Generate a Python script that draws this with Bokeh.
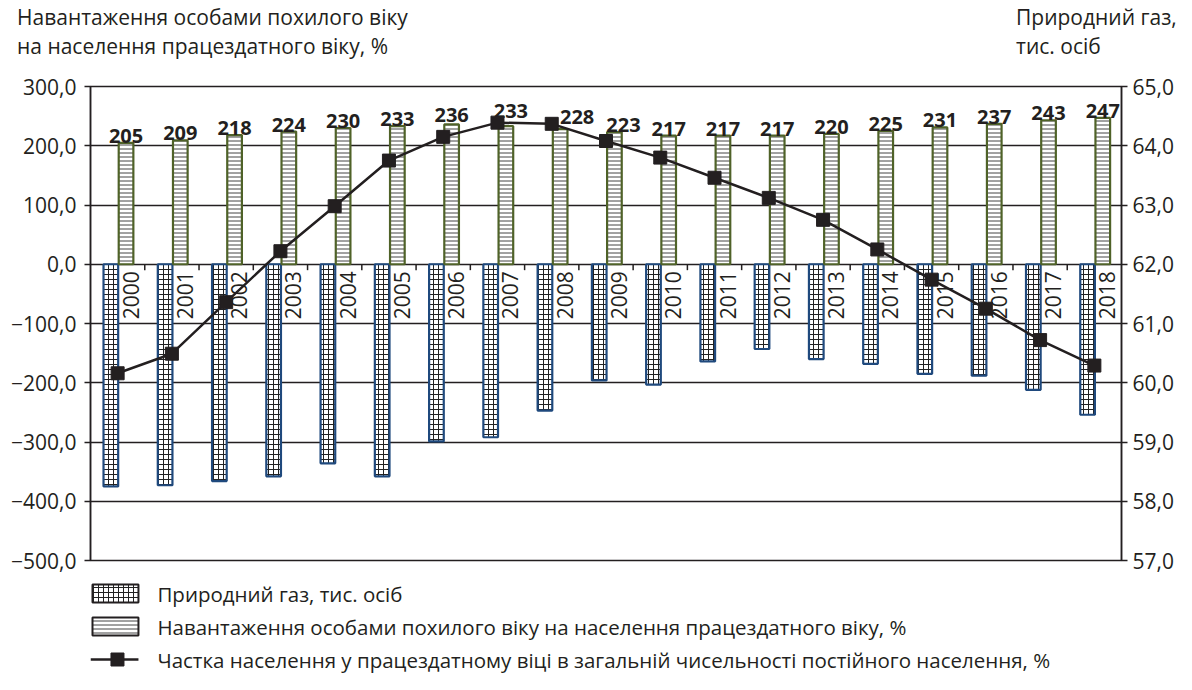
import math
import json
from html import escape
from bokeh.plotting import figure
from bokeh.layouts import column
from bokeh.models import (Range1d, LinearAxis, FixedTicker, CustomJSTickFormatter,
                          ColumnDataSource, Div)
from bokeh.core.properties import value
from bokeh.embed import file_html
from bokeh.resources import INLINE

# ---------------- data ----------------
years = ["2000", "2001", "2002", "2003", "2004", "2005", "2006", "2007", "2008", "2009",
         "2010", "2011", "2012", "2013", "2014", "2015", "2016", "2017", "2018"]
gas = [-375, -373, -366, -358, -336, -358, -299, -292, -247, -196,
       -203, -164, -143, -160, -168, -185, -188, -212, -254]
load = [205, 209, 218, 224, 230, 233, 236, 233, 228, 223,
        217, 217, 217, 220, 225, 231, 237, 243, 247]
share = [60.16, 60.49, 61.36, 62.22, 62.98, 63.75, 64.15, 64.39, 64.37, 64.08,
         63.80, 63.46, 63.12, 62.75, 62.25, 61.74, 61.25, 60.72, 60.29]

left_ticks = [-500, -400, -300, -200, -100, 0, 100, 200, 300]
right_ticks = [57, 58, 59, 60, 61, 62, 63, 64, 65]

title_left = ["Навантаження особами похилого віку", "на населення працездатного віку, %"]
title_right = ["Природний газ,", "тис. осіб"]
x_title = "Рік"
legend_labels = ["Природний газ, тис. осіб",
                 "Навантаження особами похилого віку на населення працездатного віку, %",
                 "Частка населення у працездатному віці в загальній чисельності постійного населення, %"]

# ---------------- styles / layout ----------------
INK = "#231f20"
NAVY = "#1f497d"
OLIVE = "#4f6228"
FONT = "Open Sans"
W = 1176
TOP_H = 66
BL, BR, BT, BB = 90, 54, 20, 14          # borders of the main chart
FRAME_W, FRAME_H = W - BL - BR, 474
MAIN_H = BT + FRAME_H + BB
BOT_H = 674 - TOP_H - MAIN_H

# label nudges (screen px) where labels avoid the line
lab_dx = [0, 0, 0, 0, 0, 0, 0, 5, 17, 9, 0, 0, 0, 0, 0, 0, 0, 0, 0]
lab_dy = [0, 0, 0, 0, 0, 0, -2, -8, -5, 0, 0, 0, 0, 0, 0, 0, 0, 0, 0]

NEG_STYLE = dict(fill_color="white", line_color=NAVY, line_width=2.2,
                 hatch_pattern="cross", hatch_scale=5, hatch_weight=1, hatch_color="#222222")
POS_STYLE = dict(fill_color="white", line_color=OLIVE, line_width=2.2,
                 hatch_pattern="horizontal_line", hatch_scale=4, hatch_weight=1, hatch_color="#444444")

# ---------------- axis titles above the chart ----------------
span = '<span style="position:absolute;left:%dpx;top:%dpx;">%s</span>'
top_html = ('<div style="position:relative;width:%dpx;height:%dpx;font-family:\'%s\';'
            'font-size:21px;line-height:21px;color:%s;white-space:nowrap;">' % (W, TOP_H, FONT, INK)
            + span % (17, 7, escape(title_left[0])) + span % (17, 36, escape(title_left[1]))
            + span % (1016, 7, escape(title_right[0])) + span % (1016, 36, escape(title_right[1]))
            + '</div>')
top = Div(text=top_html, width=W, height=TOP_H, margin=0)

# ---------------- main chart ----------------
idx = list(range(len(years)))
src = ColumnDataSource(dict(
    x=idx,
    xneg=[i - 0.125 for i in idx],
    xpos=[i + 0.155 for i in idx],
    gas=gas, load=load, share=share, years=years,
    load_txt=[str(v) for v in load],
    dx=lab_dx, dy=[d - 7 for d in lab_dy],
))

p = figure(width=W, height=MAIN_H, x_range=Range1d(-0.5, 18.5), y_range=Range1d(-500, 300),
           min_border_left=BL, min_border_right=BR, min_border_top=BT, min_border_bottom=BB,
           output_backend="svg", toolbar_location=None,
           x_axis_location=None, y_axis_location="left",
           background_fill_color="white", border_fill_color="white")
p.outline_line_color = INK
p.outline_line_width = 1.5
for g in p.xgrid:
    g.visible = False

fmt = CustomJSTickFormatter(code="return tick.toFixed(1).replace('.', ',').replace('-', '\u2212');")


def style_axis(ax, size="21px"):
    ax.axis_line_color = INK
    ax.axis_line_width = 1.5
    ax.major_tick_line_color = INK
    ax.major_tick_line_width = 1.5
    ax.major_tick_out = 6
    ax.major_tick_in = 0
    ax.minor_tick_line_color = None
    ax.major_label_text_font = FONT
    ax.major_label_text_font_size = size
    ax.major_label_text_color = INK


ly = p.yaxis[0]
ly.ticker = FixedTicker(ticks=left_ticks)
ly.formatter = fmt
style_axis(ly)
ly.major_label_standoff = 8

for g in p.ygrid:
    g.ticker = FixedTicker(ticks=left_ticks)
    g.grid_line_color = INK
    g.grid_line_width = 1.5

p.extra_y_ranges = {"share": Range1d(57, 65)}
ry = LinearAxis(y_range_name="share", ticker=FixedTicker(ticks=right_ticks), formatter=fmt)
style_axis(ry)
ry.major_label_standoff = 5
p.add_layout(ry, "right")

# x-axis title "Рік" at the right end of the category axis
rik = LinearAxis(y_range_name="share", fixed_location=18.5, ticker=FixedTicker(ticks=[61.6]),
                 formatter=CustomJSTickFormatter(code="return %s;" % json.dumps(x_title, ensure_ascii=False)))
rik.axis_line_color = None
rik.major_tick_line_color = None
rik.minor_tick_line_color = None
rik.major_tick_out = 0
rik.major_tick_in = 0
rik.major_label_standoff = 19
rik.major_label_text_font = FONT
rik.major_label_text_font_size = "21px"
rik.major_label_text_color = INK
p.add_layout(rik, "right")

# bars
neg = p.vbar(x="xneg", top="gas", bottom=0, width=0.27, source=src, **NEG_STYLE)
pos = p.vbar(x="xpos", top="load", bottom=0, width=0.27, source=src, **POS_STYLE)

# category-axis ticks at boundaries
bounds = [i + 0.5 for i in idx[:-1]]
p.segment(x0=bounds, y0=[0] * len(bounds), x1=bounds, y1=[-10] * len(bounds),
          line_color=INK, line_width=1.5)

# year labels (vertical)
p.text(x="x", y=0, text="years", source=src, angle=math.pi / 2,
       x_offset=13, y_offset=7, text_align="right", text_baseline="middle",
       text_font=value(FONT), text_font_size="21px", text_color=INK)

# value labels
p.text(x="xpos", y="load", text="load_txt", source=src,
       x_offset="dx", y_offset="dy", text_align="center", text_baseline="alphabetic",
       text_font=value(FONT), text_font_style="bold", text_font_size="20px", text_color=INK)

# line
p.line(x="x", y="share", source=src, y_range_name="share", line_color=INK, line_width=2.5)
p.scatter(x="x", y="share", source=src, y_range_name="share", marker="square",
          size=13, fill_color=INK, line_color=INK)

# ---------------- legend (frame aligned with the chart frame) ----------------
bot = figure(width=W, height=BOT_H, x_range=Range1d(0, FRAME_W), y_range=Range1d(BOT_H, 0),
             x_axis_location=None, y_axis_location=None, output_backend="svg",
             toolbar_location=None, min_border_left=BL, min_border_right=BR,
             min_border_top=0, min_border_bottom=0, outline_line_color=None,
             background_fill_color="white", border_fill_color="white")
bot.grid.visible = False
rows = [19, 52, 85]
leg_neg = dict(NEG_STYLE, line_color=INK, line_width=2)
leg_pos = dict(POS_STYLE, line_color=INK, line_width=2)
bot.quad(left=[2], right=[48], top=[rows[0] - 9], bottom=[rows[0] + 9], **leg_neg)
bot.quad(left=[2], right=[48], top=[rows[1] - 9], bottom=[rows[1] + 9], **leg_pos)
bot.line(x=[0, 48], y=[rows[2], rows[2]], line_color=INK, line_width=2.5)
bot.scatter(x=[27], y=[rows[2]], marker="square", size=13, fill_color=INK, line_color=INK)
bot.text(x=[67] * 3, y=rows, text=legend_labels, text_align="left", text_baseline="middle",
         text_font=value(FONT), text_font_size="20.5px", text_color=INK)

layout = column(top, p, bot, spacing=0)
open("out.html", "w").write(file_html(layout, INLINE))
